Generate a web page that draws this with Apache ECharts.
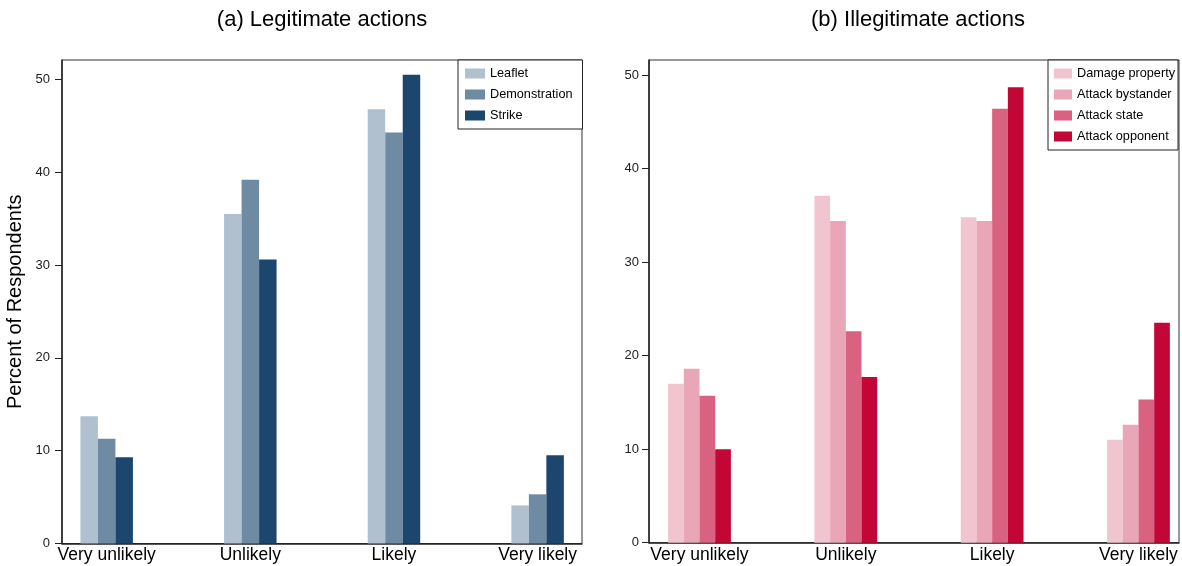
<!DOCTYPE html>
<html>
<head>
<meta charset="utf-8">
<script src="https://cdn.jsdelivr.net/npm/echarts@6/dist/echarts.min.js"></script>
<style>
html,body{margin:0;padding:0;background:#fff;}
#chart{width:1182px;height:566px;}
</style>
</head>
<body>
<div id="chart"></div>
<script>
// ---- data ----
const categories = ['Very unlikely', 'Unlikely', 'Likely', 'Very likely'];
const yTicks = [0, 10, 20, 30, 40, 50];

const legitNames = ['Leaflet', 'Demonstration', 'Strike'];
const leaflet = [13.7, 35.5, 46.8, 4.1];
const demonstration = [11.3, 39.2, 44.3, 5.3];
const strike = [9.3, 30.6, 50.5, 9.5];

const illegitNames = ['Damage property', 'Attack bystander', 'Attack state', 'Attack opponent'];
const damageProperty = [17.0, 37.1, 34.8, 11.0];
const attackBystander = [18.6, 34.4, 34.4, 12.6];
const attackState = [15.7, 22.6, 46.4, 15.3];
const attackOpponent = [10.0, 17.7, 48.7, 23.5];

const legitColors = ['#b0c0cf', '#6f8ba3', '#1c466e'];
const illegitColors = ['#f1c5d0', '#e9a6b6', '#d96281', '#c20737'];

// ---- build ----
const FONT = '"Liberation Sans", Arial, sans-serif';
const toPts = arr => arr.map((v, i) => [i, v]);
const catIdx = [0, 1, 2, 3];

function xAxisDef(gridIndex, min, max) {
  return {
    type: 'value', gridIndex, min, max,
    axisLine: { show: true, onZero: false, lineStyle: { color: '#222', width: 1.5 } },
    axisTick: { show: false },
    splitLine: { show: false },
    axisLabel: {
      customValues: catIdx,
      formatter: v => categories[Math.round(v)],
      color: '#000', fontFamily: FONT, fontSize: 17.5, margin: 3
    }
  };
}
function yAxisDef(gridIndex, max, margin, withName) {
  const d = {
    type: 'value', gridIndex, min: 0, max,
    axisLine: { show: true, onZero: false, lineStyle: { color: '#222', width: 1.5 } },
    axisTick: { show: true, customValues: yTicks, length: 7, lineStyle: { color: '#222', width: 1 } },
    splitLine: { show: false },
    axisLabel: { customValues: yTicks, color: '#222', fontFamily: FONT, fontSize: 13, margin }
  };
  if (withName) {
    d.name = 'Percent of Respondents';
    d.nameLocation = 'middle';
    d.nameGap = 37;
    d.nameTextStyle = { color: '#000', fontFamily: FONT, fontSize: 20 };
  }
  return d;
}
function barSeries(name, data, color, idx, width) {
  return {
    type: 'bar', name, data: toPts(data),
    xAxisIndex: idx, yAxisIndex: idx,
    barWidth: width, barGap: '0%',
    itemStyle: { color },
    emphasis: { disabled: true },
    animation: false
  };
}

const legitSeries = [leaflet, demonstration, strike].map((d, i) => barSeries(legitNames[i], d, legitColors[i], 0, 17.5));
const illegitSeries = [damageProperty, attackBystander, attackState, attackOpponent].map((d, i) => barSeries(illegitNames[i], d, illegitColors[i], 1, 15.7));

const legendCommon = {
  orient: 'vertical', top: 60, icon: 'rect', itemHeight: 10,
  itemGap: 8, selectedMode: false,
  backgroundColor: '#fff', borderColor: '#222', borderWidth: 1,
  textStyle: { color: '#000', fontFamily: FONT, fontSize: 12.7 }
};

const option = {
  animation: false,
  backgroundColor: '#fff',
  title: [
    { text: '(a) Legitimate actions', left: 322, top: 9, textAlign: 'center', padding: 0,
      textStyle: { color: '#000', fontFamily: FONT, fontSize: 22, fontWeight: 'normal' } },
    { text: '(b) Illegitimate actions', left: 918, top: 9, textAlign: 'center', padding: 0,
      textStyle: { color: '#000', fontFamily: FONT, fontSize: 22, fontWeight: 'normal' } }
  ],
  grid: [
    { left: 62, top: 60, width: 520, bottom: 22.5, show: true, borderColor: '#333', borderWidth: 1, backgroundColor: 'transparent' },
    { left: 649, top: 60, right: 3, bottom: 23.3, show: true, borderColor: '#333', borderWidth: 1, backgroundColor: 'transparent' }
  ],
  xAxis: [xAxisDef(0, -0.311, 3.309), xAxisDef(1, -0.345, 3.277)],
  yAxis: [yAxisDef(0, 52.1, 12, true), yAxisDef(1, 51.6, 10, false)],
  legend: [
    Object.assign({}, legendCommon, { data: legitNames, left: 458, itemWidth: 20, padding: [7, 10, 7, 7] }),
    Object.assign({}, legendCommon, { data: illegitNames, left: 1048, itemWidth: 18, padding: [7, 3, 7, 6] })
  ],
  series: legitSeries.concat(illegitSeries)
};

const chart = echarts.init(document.getElementById('chart'), null, { renderer: 'canvas' });
chart.setOption(option);
</script>
</body>
</html>
